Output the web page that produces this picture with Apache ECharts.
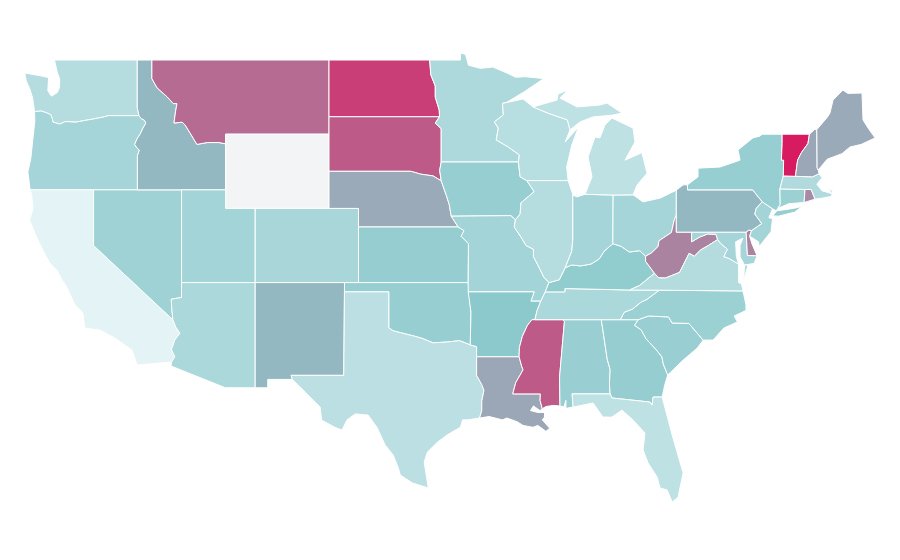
<!DOCTYPE html>
<html><head><meta charset="utf-8">
<script src="https://cdn.jsdelivr.net/npm/echarts@6/dist/echarts.min.js"></script>
<style>html,body{margin:0;padding:0;background:#fff}#c{width:900px;height:560px}</style>
</head><body><div id="c"></div>
<script>
const stateNames = ['Alabama','Arizona','Arkansas','California','Colorado','Connecticut','Delaware','Florida','Georgia','Idaho','Illinois','Indiana','Iowa','Kansas','Kentucky','Louisiana','Maine','Maryland','Massachusetts','Michigan','Minnesota','Mississippi','Missouri','Montana','Nebraska','Nevada','New Hampshire','New Jersey','New Mexico','New York','North Carolina','North Dakota','Ohio','Oklahoma','Oregon','Pennsylvania','Rhode Island','South Carolina','South Dakota','Tennessee','Texas','Utah','Vermont','Virginia','Washington','West Virginia','Wisconsin','Wyoming'];
const stateValues = [43,33,50,1,34,41,70,22,45,55,27,36,44,45,47,60,59,36,30,22,31,82,37,77,59,40,60,37,55,44,41,90,36,44,36,55,68,43,82,33,24,37,100,28,27,70,26,null];
const scaleColors = ['#e6f4f6','#8cc9cc','#d81b60'];

/* Geographic outlines (degrees west, degrees north), projected by the library */
const outlines = {
'Washington':["124 46.22 124.13 46.95 124.3 47.4 124.55 47.85 124.67 48.3 123.6 48.15 123.05 48.05 123.1 47.35 122.95 47.15 122.85 47.05 122.45 47.25 122.3 47.55 122.3 48 122.45 48.3 122.65 49 117.04 49 117.04 46.42 116.92 46 119 46 119.3 45.93 120 45.82 120.6 45.74 121.2 45.65 121.9 45.68 122.3 45.55 122.75 45.65 122.8 45.85 122.9 46.05 123.17 46.15 123.55 46.25"],
'Oregon':["124.3 42 124.45 42.96 124.25 43.7 124.12 44.69 123.98 45.7 124 46.22 123.55 46.25 123.17 46.15 122.9 46.05 122.8 45.85 122.75 45.65 122.3 45.55 121.9 45.68 121.2 45.65 120.6 45.74 120 45.82 119.3 45.93 119 46 116.92 46 116.78 45.85 116.55 45.75 116.46 45.6 116.67 45.3 116.85 45 117.05 44.75 117.22 44.45 117.05 44.25 116.9 44.15 117.03 43.83 117.03 42"],
'California':["124.3 42 120 42 120 39 114.63 35 114.43 34.6 114.15 34.27 114.5 33.9 114.72 33.4 114.5 33 114.72 32.72 117.05 32.56 117.4 33.37 117.9 33.65 118.55 34.01 119.57 34.44 120.59 34.55 120.72 35.36 121.3 35.85 121.81 36.76 122.1 37.1 122.49 37.68 122.97 38.06 123.4 38.7 123.78 39.3 124.33 40.37 124.1 41 124.2 41.75"],
'Nevada':["120 42 114.04 42 114.04 36.2 114.74 36.1 114.7 35.6 114.63 35 120 39"],
'Idaho':["117.04 49 116.05 49 116.05 48 115.7 47.5 115 47 114.6 46.65 114.35 46.65 114.45 46.2 114.55 45.6 114 45.65 113.8 45.5 113.45 45.05 113 44.45 112.3 44.55 111.5 44.55 111.05 44.48 111.05 42 117.03 42 117.03 43.83 116.9 44.15 117.05 44.25 117.22 44.45 117.05 44.75 116.85 45 116.67 45.3 116.46 45.6 116.55 45.75 116.78 45.85 116.92 46 117.04 46.42"],
'Montana':["116.05 49 104.05 49 104.05 45 111.05 45 111.05 44.48 111.5 44.55 112.3 44.55 113 44.45 113.45 45.05 113.8 45.5 114 45.65 114.55 45.6 114.45 46.2 114.35 46.65 114.6 46.65 115 47 115.7 47.5 116.05 48"],
'Wyoming':["111.05 45 104.05 45 104.05 41 111.05 41"],
'Utah':["114.04 42 111.05 42 111.05 41 109.05 41 109.05 37 114.04 37"],
'Arizona':["114.04 37 109.05 37 109.05 31.33 111.07 31.33 114.75 32.5 114.72 32.72 114.5 33 114.72 33.4 114.5 33.9 114.15 34.27 114.43 34.6 114.63 35 114.7 35.6 114.74 36.1 114.04 36.2"],
'Colorado':["109.05 41 102.05 41 102.05 37 109.05 37"],
'New Mexico':["109.05 37 103 37 103.05 32 106.62 32 106.53 31.78 108.2 31.78 108.2 31.33 109.05 31.33"],
'North Dakota':["104.05 49 97.23 49 97.15 48.2 96.85 47.6 96.85 47 96.58 46.3 96.56 45.94 104.05 45.94"],
'South Dakota':["104.05 45.94 96.56 45.94 96.85 45.6 96.45 45.3 96.45 43.5 96.55 43.05 96.45 42.49 97 42.75 97.85 42.85 98.5 43 104.05 43"],
'Nebraska':["104.05 43 98.5 43 97.85 42.85 97 42.75 96.45 42.49 96.1 41.7 95.9 41.2 95.77 40.58 95.3 40 102.05 40 102.05 41 104.05 41"],
'Kansas':["102.05 40 95.3 40 94.9 39.8 95.1 39.5 94.6 39.1 94.62 37 102.05 37"],
'Oklahoma':["103 37 94.62 37 94.43 35.4 94.48 33.64 95.2 33.87 96 33.8 97 33.75 97.7 33.98 98.2 34.1 99.2 34.3 99.7 34.4 100 34.56 100 36.5 103 36.5"],
'Texas':["103 36.5 100 36.5 100 34.56 99.7 34.4 99.2 34.3 98.2 34.1 97.7 33.98 97 33.75 96 33.8 95.2 33.87 94.48 33.64 94.05 33.55 94.05 32 93.7 31.5 93.55 31.2 93.7 30.6 93.7 30.1 93.85 29.7 94.65 29.6 95 29.6 95.15 29.2 96.03 28.8 96.7 28.4 97.38 27.87 97.6 27.33 97.52 26.9 97.32 25.93 98.4 26.2 99.22 26.63 99.35 27 99.7 27.7 100.25 28.25 100.8 29.2 101.4 29.86 102.28 29.92 102.83 29.6 103.17 29.05 103.65 29.2 104.55 29.59 104.65 30.29 106 31.37 106.53 31.78 106.62 32 103.05 32"],
'Minnesota':["97.23 49 95.15 49 95.15 49.38 94.8 49.3 94.6 48.72 93.8 48.55 92.95 48.62 92 48.3 91.4 48.07 90.75 48.1 89.5 48 90.8 47.3 92 46.72 92.29 46.66 92.24 46.04 92.85 45.66 92.58 45.33 92.72 44.69 91.9 44.31 91.15 43.88 91.22 43.5 96.45 43.5 96.45 45.3 96.85 45.6 96.56 45.94 96.58 46.3 96.85 47 96.85 47.6 97.15 48.2"],
'Iowa':["96.45 43.5 91.22 43.5 91.1 42.7 90.65 42.5 90.15 41.9 91.05 41.3 91.1 40.7 91.42 40.38 91.73 40.61 95.77 40.58 95.9 41.2 96.1 41.7 96.45 42.49 96.55 43.05"],
'Missouri':["95.77 40.58 91.73 40.61 91.42 40.38 91.5 40 91 39.4 90.7 39 90.2 38.8 90.2 38.4 89.9 37.95 89.5 37.3 89.15 37 89.4 36.5 89.7 36 90.37 36 90.15 36.5 94.62 36.5 94.62 37 94.6 39.1 95.1 39.5 94.9 39.8 95.3 40"],
'Arkansas':["94.62 36.5 90.15 36.5 90.37 36 89.7 36 89.95 35.5 90.1 35 90.3 35 90.6 34.7 90.95 34.1 91.15 33.5 91.17 33 94.05 33 94.05 33.55 94.48 33.64 94.43 35.4"],
'Louisiana':["94.05 33 91.17 33 91 32.5 90.9 32.3 91.4 31.6 91.6 31 89.73 31 89.75 30.65 89.6 30.2 89.75 30.1 90.2 30.35 90.4 30.1 89.9 30 89.45 30 89.45 29.75 89.6 29.6 89.1 29.15 89.35 28.98 89.9 29.3 90.23 29.2 90.9 29.3 91.3 29.5 92 29.7 92.3 29.6 93.2 29.78 93.85 29.7 93.7 30.1 93.7 30.6 93.55 31.2 93.7 31.5 94.05 32"],
'Mississippi':["90.3 35 88.2 35 88.1 34.9 88.43 31.9 88.4 30.35 88.85 30.38 89.35 30.32 89.6 30.2 89.75 30.65 89.73 31 91.6 31 91.4 31.6 90.9 32.3 91 32.5 91.17 33 91.15 33.5 90.95 34.1 90.6 34.7"],
'Alabama':["88.2 35 85.6 35 85.2 32.87 85 32.3 85.05 31.55 85 31 87.58 31 87.51 30.29 88 30.22 88 30.65 88.13 30.3 88.4 30.35 88.43 31.9 88.1 34.9"],
'Georgia':["85.6 35 83.1 35 83.35 34.7 82.9 34.45 82.55 33.95 81.9 33.4 81.5 33 81.4 32.6 81.1 32.02 81.3 31.5 81.48 30.83 82.09 30.83 82.16 30.4 82.3 30.56 84.88 30.78 85 31 85.05 31.55 85 32.3 85.2 32.87"],
'Florida':["87.58 31 85 31 84.88 30.78 82.3 30.56 82.16 30.4 82.09 30.83 81.48 30.83 80.8 28.78 80.06 26.74 80.4 25.44 80.8 25.17 81.14 25.82 81.62 25.93 81.82 26.52 82.43 27.27 82.77 27.98 82.64 28.89 83.45 29.59 84.2 30.13 84.88 29.75 85.49 29.75 86.16 30.51 87.51 30.29"],
'South Carolina':["83.1 35 83.35 34.7 82.9 34.45 82.55 33.95 81.9 33.4 81.5 33 81.4 32.6 81.1 32.02 80.05 32.83 79.1 33.47 78.7 33.9 79.67 34.8 80.8 34.82 81.05 35.15 82.4 35.2"],
'North Carolina':["84.32 35 83.1 35 82.4 35.2 81.05 35.15 80.8 34.82 79.67 34.8 78.7 33.9 78.03 33.9 77.3 34.55 76.38 34.88 76.6 35.2 75.8 35.5 75.8 35.8 76 36.55 81.68 36.59 82.5 36.1 82.9 35.95 83.5 35.57 84.05 35.4"],
'Tennessee':["90.1 35 88.2 35 85.6 35 84.32 35 84.05 35.4 83.5 35.57 82.9 35.95 82.5 36.1 81.68 36.59 83.68 36.6 88.07 36.68 88.07 36.5 89.4 36.5 89.7 36 89.95 35.5"],
'Kentucky':["89.15 37 89.4 36.5 88.07 36.5 88.07 36.68 83.68 36.6 83 36.85 82 37.5 82.6 38.15 82.6 38.42 83 38.72 83.7 38.65 84.25 38.95 84.82 39.1 85.4 38.7 85.75 38.27 86.3 38 87 37.9 87.6 37.95 88.05 37.8 88.45 37.15"],
'Illinois':["90.65 42.5 87.85 42.5 87.55 41.8 87.53 41.72 87.53 39.35 87.6 38.7 88.05 37.8 88.45 37.15 89.15 37 89.5 37.3 89.9 37.95 90.2 38.4 90.2 38.8 90.7 39 91 39.4 91.5 40 91.42 40.38 91.1 40.7 91.05 41.3 90.15 41.9"],
'Indiana':["87.53 41.72 87.25 41.62 86.7 41.76 84.8 41.72 84.82 39.1 85.4 38.7 85.75 38.27 86.3 38 87 37.9 87.6 37.95 88.05 37.8 87.6 38.7 87.53 39.35"],
'Ohio':["84.8 41.72 83.45 41.73 82.77 41.35 81.6 41.56 80.52 41.98 80.52 40.64 80.65 40.4 80.85 39.7 81.7 39.25 81.75 38.95 82.2 38.6 82.6 38.42 83 38.72 83.7 38.65 84.25 38.95 84.82 39.1"],
'West Virginia':["80.52 40.64 80.52 39.72 79.48 39.72 79.48 39.2 78.95 39.45 78.4 39.62 77.83 39.6 77.72 39.32 78.35 39 78.87 38.76 79.3 38.42 79.65 38.58 80.3 37.55 81.25 37.25 81.7 37.25 82 37.5 82.6 38.15 82.6 38.42 82.2 38.6 81.75 38.95 81.7 39.25 80.85 39.7 80.65 40.4"],
'Virginia':["83.68 36.6 81.68 36.59 76 36.55 76.1 36.93 76.3 37 76.3 37.55 76.3 38 76.95 38.3 77.3 38.4 77.05 38.8 77.5 39.1 77.72 39.32 78.35 39 78.87 38.76 79.3 38.42 79.65 38.58 80.3 37.55 81.25 37.25 81.7 37.25 82 37.5 83 36.85","75.9 37.95 75.65 37.95 75.95 37.15"],
'Maryland':["79.48 39.72 75.79 39.72 75.7 38.46 75.05 38.45 75.25 38.03 75.9 37.95 76.2 38.4 76.2 39 76 39.4 76.5 39.2 76.45 38.4 76.3 38 76.95 38.3 77.3 38.4 77.05 38.8 77.5 39.1 77.72 39.32 77.83 39.6 78.4 39.62 78.95 39.45 79.48 39.2"],
'Delaware':["75.79 39.72 75.6 39.84 75.42 39.8 75.55 39.5 75.4 39.1 75.05 38.45 75.7 38.46"],
'Pennsylvania':["80.52 41.98 80.05 42.27 79.76 42.27 79.76 42 75.35 42 74.7 41.36 75.1 41 75.2 40.7 74.73 40.18 75.42 39.8 75.6 39.84 75.79 39.72 80.52 39.72 80.52 40.64"],
'New Jersey':["74.7 41.36 74 40.98 74.25 40.5 74 40.45 74.1 39.75 74.9 38.95 74.95 39.2 75.55 39.5 75.42 39.8 74.73 40.18 75.2 40.7 75.1 41"],
'New York':["79.76 42 79.76 42.27 79.05 42.7 79.05 43.17 77.56 43.23 76.2 43.6 76.34 44.15 75.33 44.8 74.85 44.9 74.7 45 73.35 45 73.35 44.5 73.4 43.6 73.25 43.6 73.27 42.75 73.5 42.05 73.48 41.2 73.65 41 73.75 40.87 74 40.98 74.7 41.36 75.35 42","74 40.6 73.7 40.87 72.6 41 72 41.1 72.5 40.8 73.6 40.58"],
'Connecticut':["73.5 42.05 71.8 42.02 71.86 41.32 72.9 41.25 73.65 41 73.48 41.2"],
'Rhode Island':["71.8 42.02 71.38 42.02 71.12 41.5 71.86 41.32"],
'Massachusetts':["73.5 42.05 73.27 42.75 72.45 42.73 71.3 42.7 70.85 42.87 70.65 42.65 71 42.3 70.65 41.95 70 41.8 70.2 42.07 69.95 41.95 70 41.65 70.65 41.55 71.12 41.5 71.38 42.02 71.8 42.02"],
'Vermont':["73.35 45 71.5 45 71.6 44.5 72.05 44 72.3 43.6 72.45 42.73 73.27 42.75 73.25 43.6 73.4 43.6 73.35 44.5"],
'New Hampshire':["71.5 45 71.15 45.25 71 45.25 70.98 43.18 70.9 43.07 70.85 42.87 71.3 42.7 72.45 42.73 72.3 43.6 72.05 44 71.6 44.5"],
'Maine':["71 45.25 70.3 45.9 70.11 46.14 69.9 46.84 69.23 47.38 68.9 47.2 67.94 47.22 67.87 45.77 67.5 45.3 67.05 44.8 68 44.45 68.75 44.31 69.3 43.95 70.3 43.65 70.9 43.07 70.98 43.18"],
'Wisconsin':["92.29 46.66 90.9 46.9 90.23 46.47 89.2 46.13 87.9 45.77 87.72 45.23 88.05 44.58 87.15 45.39 87.6 44.42 87.95 43.23 87.85 42.5 90.65 42.5 91.1 42.7 91.22 43.5 91.15 43.88 91.9 44.31 92.72 44.69 92.58 45.33 92.85 45.66 92.24 46.04"],
'Michigan':["84.8 41.72 86.7 41.76 86.23 42.7 86.5 43.77 86.03 44.85 85.7 44.8 85.35 45.5 84.88 45.87 83.45 45.33 83.32 44.58 84 43.6 82.85 44 82.5 42.9 83.18 42.26 83.45 41.73","90.23 46.47 88.6 46.84 88.53 47.17 87.85 47.38 88.4 46.95 87.25 46.47 85.7 46.57 85.22 46.68 84.2 46.14 84.82 46.03 86.17 45.93 87.05 45.66 87.72 45.23 87.9 45.77 89.2 46.13"]
};

function toRing(text){
  const n = text.trim().split(/\s+/).map(Number), ring = [];
  for (let i = 0; i < n.length; i += 2) ring.push([-n[i], n[i+1]]);
  ring.push(ring[0].slice());
  return ring;
}
const usa = {type:'FeatureCollection',features:Object.keys(outlines).map(name=>({
  type:'Feature',properties:{name},
  geometry:{type:'MultiPolygon',coordinates:outlines[name].map(t=>[toRing(t)])}
}))};
echarts.registerMap('USA', usa);
const chart = echarts.init(document.getElementById('c'),null,{renderer:'canvas'});
chart.setOption({
  backgroundColor:'#fff',
  animation:false,
  tooltip:{show:false},
  visualMap:{show:false,type:'continuous',min:0,max:100,seriesIndex:0,inRange:{color:scaleColors}},
  series:[{
    type:'map',map:'USA',roam:false,silent:true,
    aspectScale:14.76/18.55,
    boundingCoords:[[-126,50],[-66,24]],
    left:5.02,top:41.45,width:885.6,height:482.3,
    label:{show:false},
    itemStyle:{areaColor:'#f3f4f6',borderColor:'#ffffff',borderWidth:1},
    emphasis:{disabled:true},
    data:stateNames.map((name,i)=>({name,value:stateValues[i]}))
  }]
});
</script></body></html>
